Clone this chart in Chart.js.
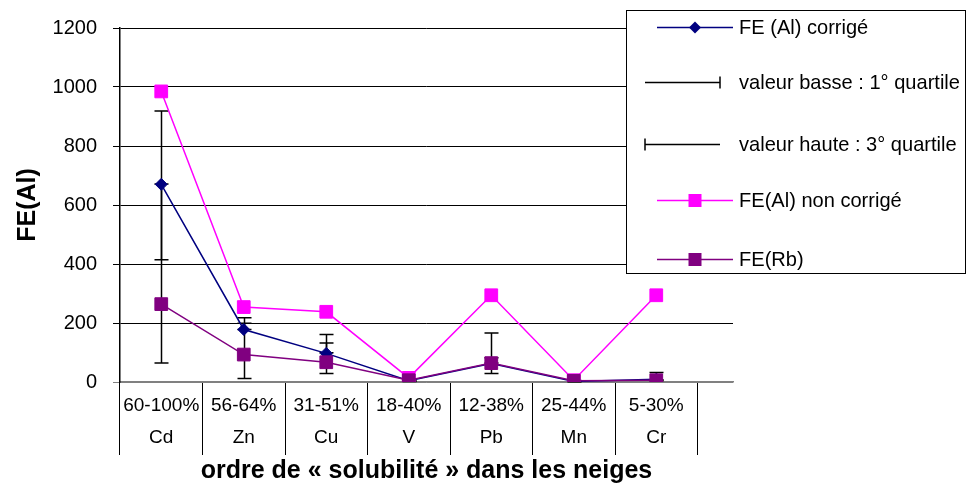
<!DOCTYPE html>
<html>
<head>
<meta charset="utf-8">
<script src="https://cdn.jsdelivr.net/npm/chart.js@4/dist/chart.umd.min.js"></script>
<style>
  html, body { margin: 0; padding: 0; background: #fff; }
  #wrap { position: relative; width: 967px; height: 491px; }
</style>
</head>
<body>
<div id="wrap"><canvas id="chart"></canvas></div>
<script>
const FONT = '"Liberation Sans Narrow", "Arial Narrow", "Liberation Sans", Arial, sans-serif';

// --- Data ---
const solubility = ['60-100%', '56-64%', '31-51%', '18-40%', '12-38%', '25-44%', '5-30%'];
const elements = ['Cd', 'Zn', 'Cu', 'V', 'Pb', 'Mn', 'Cr'];

const feAlCorrige = [670, 178, 97, 4, 63, 2, 9];
const feAlNonCorrige = [985, 254, 238, 14, 294, 6, 294];
const feRb = [264, 93, 67, 6, 64, 4, 6];

// quartile whiskers (drawn on FE (Al) corrigé)
const basseFrom = [64, 12, 29, 2, 29, 1, 4];     // 1st quartile end
const basseTo = [671, 199, 132, 5, 82, 3, 8];
const hauteFrom = [414, 178, 99, 3, 64, 2, 6];
const hauteTo = [919, 218, 161, 9, 166, 5, 32];  // 3rd quartile end

const yTicks = [0, 200, 400, 600, 800, 1000, 1200];

const legendItems = [
    { text: 'FE (Al) corrigé', kind: 'diamond', color: '#000080' },
    { text: 'valeur basse : 1° quartile', kind: 'capRight', color: '#000' },
    { text: 'valeur haute : 3° quartile', kind: 'capLeft', color: '#000' },
    { text: 'FE(Al) non corrigé', kind: 'square', color: '#FF00FF' },
    { text: 'FE(Rb)', kind: 'square', color: '#800080' }
];

const labels = solubility.map((s, i) => [s, elements[i]]);

// --- Plugins ---
const errorBars = {
    id: 'errorBars',
    beforeDatasetsDraw(chart) {
        const { ctx, scales: { x, y } } = chart;
        const pairs = [[basseFrom, basseTo], [hauteFrom, hauteTo]];
        ctx.save();
        ctx.strokeStyle = '#000';
        ctx.lineWidth = 1.5;
        labels.forEach((_, i) => {
            const px = Math.round(x.getPixelForValue(i)) + 0.5;
            pairs.forEach(([from, to]) => {
                const y1 = y.getPixelForValue(from[i]);
                const y2 = y.getPixelForValue(to[i]);
                ctx.beginPath();
                ctx.moveTo(px, y1);
                ctx.lineTo(px, y2);
                ctx.moveTo(px - 7, y1);
                ctx.lineTo(px + 7, y1);
                ctx.moveTo(px - 7, y2);
                ctx.lineTo(px + 7, y2);
                ctx.stroke();
            });
        });
        ctx.restore();
    }
};

const boxLegend = {
    id: 'boxLegend',
    afterDraw(chart) {
        const ctx = chart.ctx;
        ctx.save();
        ctx.fillStyle = '#fff';
        ctx.fillRect(626, 10, 340, 264);
        ctx.strokeStyle = '#000';
        ctx.lineWidth = 1;
        ctx.strokeRect(626.5, 10.5, 339, 263);

        const rows = [27, 82, 144, 200, 259];
        ctx.font = '21px ' + FONT;
        ctx.textBaseline = 'middle';
        legendItems.forEach((it, i) => {
            const yy = rows[i] + 0.5;
            ctx.strokeStyle = it.color;
            ctx.fillStyle = it.color;
            ctx.lineWidth = 1.5;
            ctx.beginPath();
            if (it.kind === 'capRight') {
                ctx.moveTo(645, yy); ctx.lineTo(720, yy);
                ctx.moveTo(720, yy - 6); ctx.lineTo(720, yy + 6);
                ctx.stroke();
            } else if (it.kind === 'capLeft') {
                ctx.moveTo(645, yy); ctx.lineTo(720, yy);
                ctx.moveTo(645, yy - 6); ctx.lineTo(645, yy + 6);
                ctx.stroke();
            } else {
                ctx.moveTo(657, yy); ctx.lineTo(733, yy);
                ctx.stroke();
                ctx.beginPath();
                if (it.kind === 'diamond') {
                    ctx.moveTo(695, yy - 6); ctx.lineTo(701, yy);
                    ctx.lineTo(695, yy + 6); ctx.lineTo(689, yy);
                    ctx.closePath();
                } else {
                    ctx.rect(688.5, yy - 6.5, 13, 13);
                }
                ctx.fill();
            }
            // slightly condensed text, like the narrow font of the original
            ctx.save();
            ctx.translate(739, rows[i] + 1);
            ctx.scale(0.955, 1);
            ctx.fillStyle = '#000';
            ctx.fillText(it.text, 0, 0);
            ctx.restore();
        });
        ctx.restore();
    }
};

// --- Chart ---
new Chart(document.getElementById('chart'), {
    type: 'line',
    data: {
        labels: labels,
        datasets: [
            {
                label: 'FE (Al) corrigé',
                data: feAlCorrige,
                borderColor: '#000080',
                backgroundColor: '#000080',
                borderWidth: 1.5,
                pointStyle: 'rectRot',
                pointRadius: 6,
                pointBorderWidth: 1,
                order: 3
            },
            {
                label: 'FE(Al) non corrigé',
                data: feAlNonCorrige,
                borderColor: '#FF00FF',
                backgroundColor: '#FF00FF',
                borderWidth: 1.5,
                pointStyle: 'rect',
                pointRadius: 9,
                pointBorderWidth: 1,
                order: 2
            },
            {
                label: 'FE(Rb)',
                data: feRb,
                borderColor: '#800080',
                backgroundColor: '#800080',
                borderWidth: 1.5,
                pointStyle: 'rect',
                pointRadius: 9,
                pointBorderWidth: 1,
                order: 1
            }
        ]
    },
    options: {
        responsive: true,
        maintainAspectRatio: false,
        animation: false,
        devicePixelRatio: 1,
        layout: { padding: { top: 19, right: 234, left: 0, bottom: 0 } },
        plugins: {
            legend: { display: false },
            tooltip: { enabled: false }
        },
        scales: {
            x: {
                type: 'category',
                offset: true,
                afterBuildTicks: (scale) => { scale._valueRange = 7.43; },
                afterFit: (scale) => { scale.height = 109; },
                grid: {
                    offset: true,
                    drawOnChartArea: false,
                    tickLength: 73,
                    color: '#000',
                    lineWidth: 1
                },
                border: { color: '#808080', width: 1.5 },
                ticks: {
                    color: '#000',
                    font: { family: FONT, size: 19, lineHeight: 1.68 },
                    padding: -65,
                    maxRotation: 0,
                    autoSkip: false
                },
                title: {
                    display: true,
                    text: 'ordre de « solubilité » dans les neiges',
                    color: '#000',
                    font: { family: FONT, size: 25, weight: 'bold', lineHeight: 1.2 },
                    padding: { top: 0, bottom: 5 }
                }
            },
            y: {
                min: 0,
                max: 1200,
                afterBuildTicks: (scale) => { scale.ticks = yTicks.map(v => ({ value: v })); },
                afterFit: (scale) => { scale.width = 120; },
                grid: {
                    color: (c) => c.tick && c.tick.value === 0 ? '#808080' : '#000',
                    tickLength: 7,
                    lineWidth: 1
                },
                border: { color: '#000', width: 1.5 },
                ticks: {
                    color: '#000',
                    font: { family: FONT, size: 20 },
                    padding: 16,
                    callback: (v) => String(v)
                },
                title: {
                    display: true,
                    text: 'FE(Al)',
                    color: '#000',
                    font: { family: FONT, size: 25, weight: 'bold', lineHeight: 1.2 },
                    padding: { top: 13, bottom: 0 }
                }
            }
        }
    },
    plugins: [errorBars, boxLegend]
});
</script>
</body>
</html>
